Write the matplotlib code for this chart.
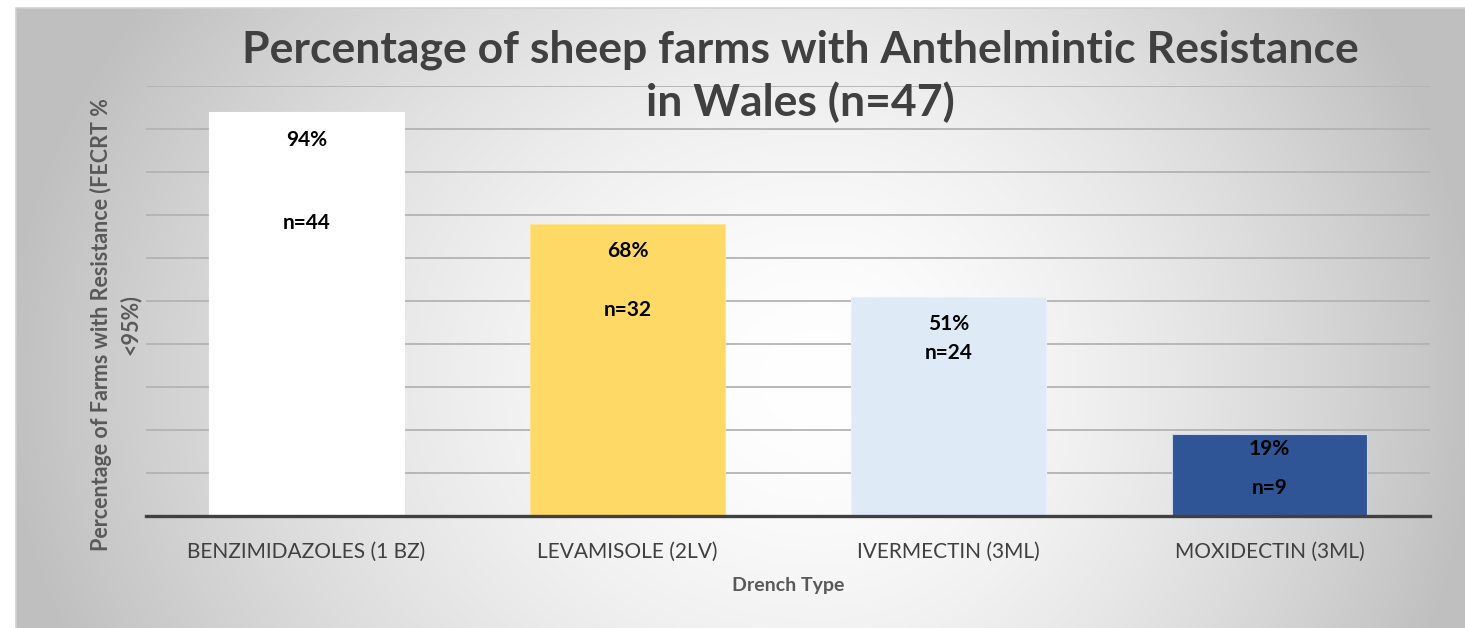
import numpy as np
import matplotlib
matplotlib.use("Agg")
import matplotlib.pyplot as plt

# datos del grafico
drenches = ["BENZIMIDAZOLES (1 BZ)", "LEVAMISOLE (2LV)", "IVERMECTIN (3ML)", "MOXIDECTIN (3ML)"]
percent = [94, 68, 51, 19]
farms_n = [44, 32, 24, 9]

bar_colors = ["#FFFFFF", "#FFD966", "#DEEBF7", "#2F5597"]
# distancia (px) desde el tope de la barra hasta cada etiqueta
pct_offset = [28, 27, 27, 15]
n_offset = [111, 86, 56, 54]

W, H = 1465, 628
plt.rcParams['font.family'] = ['Lato', 'DejaVu Sans']

fig = plt.figure(figsize=(W / 100, H / 100), dpi=100)

# fondo con degradado radial
bg = fig.add_axes([0, 0, 1, 1], zorder=-10)
bg.set_xlim(0, W)
bg.set_ylim(H, 0)
bg.axis("off")
xx, yy = np.meshgrid(np.arange(16, W + 1), np.arange(8, H + 1))
cx, cy = 820, 380
sx = np.where(xx < cx, 820, 660)
t = np.sqrt(((xx - cx) / sx) ** 2 + ((yy - cy) / 680) ** 2)
v = 255 - 64 * np.clip(t, 0, 1) ** 1.6
img = np.dstack([v, v, v]) / 255
bg.imshow(img, extent=(16, W + 1, H + 1, 8), aspect="auto", interpolation="bilinear")
bg.plot([16, 16, W], [H, 8, 8], color="#d0d0d0", lw=1.2)

# ejes principales
ax = fig.add_axes([146 / W, (H - 516) / H, 1284 / W, 430 / H])
ax.set_facecolor("none")
x = np.arange(len(drenches))
ax.bar(x, percent, width=0.607, color=bar_colors, edgecolor=["#ffffff", "#fde39a", "#e8f1fa", "#c9d6ea"],
       linewidth=0.8, zorder=3)
ax.set_xlim(-0.5, len(drenches) - 0.5)
ax.set_ylim(0, 100)
ax.set_yticks(np.arange(10, 101, 10))
ax.yaxis.grid(True, color="#b3b3b3", lw=1.3)
ax.set_axisbelow(True)
ax.tick_params(axis="y", left=False, labelleft=False)
ax.tick_params(axis="x", bottom=False, pad=15, labelsize=15, labelcolor="#404040")
ax.set_xticks(x)
ax.set_xticklabels(drenches)
for s in ["top", "right", "left"]:
    ax.spines[s].set_visible(False)
ax.spines["bottom"].set_color("#404040")
ax.spines["bottom"].set_linewidth(2.4)
ax.spines["bottom"].set_zorder(4)

# etiquetas de las barras
for i in range(len(drenches)):
    ax.annotate(f"{percent[i]}%", xy=(x[i], percent[i]), xytext=(0, -pct_offset[i] * 0.72),
                textcoords="offset points", ha="center", va="center",
                fontsize=15, fontweight="bold", color="black", zorder=5)
    ax.annotate(f"n={farms_n[i]}", xy=(x[i], percent[i]), xytext=(0, -n_offset[i] * 0.72),
                textcoords="offset points", ha="center", va="center",
                fontsize=15, fontweight="bold", color="black", zorder=5)

# titulo y nombres de ejes
fig.text(800 / W, 1 - 76 / H, "Percentage of sheep farms with Anthelmintic Resistance\nin Wales (n=47)",
         ha="center", va="center", multialignment="center", fontsize=32, fontweight="bold",
         color="#404040", linespacing=1.33)
fig.text(115 / W, 1 - 325 / H, "Percentage of Farms with Resistance (FECRT %\n<95%)",
         rotation=90, ha="center", va="center", multialignment="center", fontsize=15.5,
         fontweight="bold", color="#595959", linespacing=1.4)
fig.text(788 / W, 1 - 585 / H, "Drench Type", ha="center", va="center", fontsize=14,
         fontweight="bold", color="#595959")

fig.savefig("out.png", dpi=100)
